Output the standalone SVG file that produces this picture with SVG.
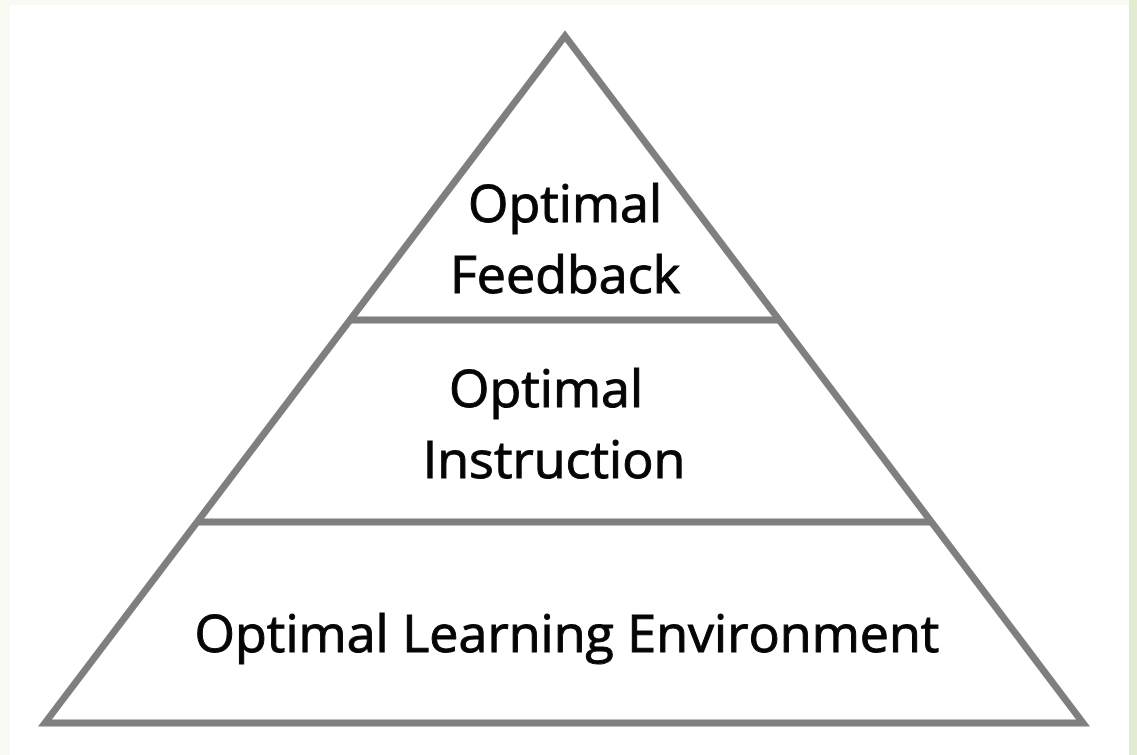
<svg xmlns="http://www.w3.org/2000/svg" width="1137" height="755" viewBox="0 0 1137 755">
<style>
.edge{stroke:#7f7f7f;stroke-width:7;fill:none;stroke-linejoin:miter}
.lbl{font-family:"Open Sans","Noto Sans",sans-serif;font-size:52px;fill:#050505;stroke:#050505;stroke-width:1;text-anchor:middle}
</style>
<rect x="0" y="0" width="1137" height="755" fill="#fafaf4"/>
<rect x="1129" y="0" width="8" height="755" fill="#e3ecd2"/>
<rect x="10" y="5" width="1119" height="750" fill="#ffffff"/>
<g id="connectors">
<polygon class="edge" points="565,36 45,723 1083,723"/>
<line class="edge" x1="350" y1="320" x2="780" y2="320"/>
<line class="edge" x1="197" y1="522" x2="933" y2="522"/>
</g>
<g id="tier-feedback"><text class="lbl" x="565" y="222">Optimal</text><text class="lbl" x="565" y="293">Feedback</text></g>
<g id="tier-instruction"><text class="lbl" x="546" y="407">Optimal</text><text class="lbl" x="554" y="478">Instruction</text></g>
<g id="tier-environment"><text class="lbl" x="567" y="652">Optimal Learning Environment</text></g>
</svg>
